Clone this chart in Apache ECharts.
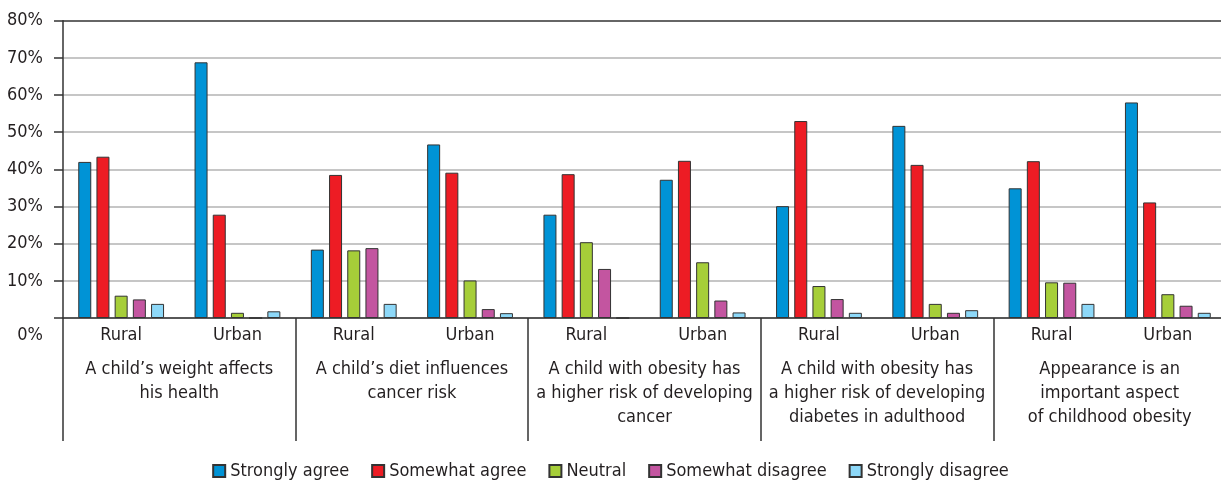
<!DOCTYPE html>
<html>
<head>
<meta charset="utf-8">
<script src="https://cdn.jsdelivr.net/npm/echarts@6/dist/echarts.min.js"></script>
<style>html,body{margin:0;padding:0;background:#fff}#c{width:1221px;height:488px}</style>
</head>
<body>
<div id="c"></div>
<script>
const subCategories = ['Rural','Urban','Rural','Urban','Rural','Urban','Rural','Urban','Rural','Urban'];
const groupLabels = [
  'A child\u2019s weight affects\nhis health',
  'A child\u2019s diet influences\ncancer risk',
  'A child with obesity has\na higher risk of developing\ncancer',
  'A child with obesity has\na higher risk of developing\ndiabetes in adulthood',
  'Appearance is an\nimportant aspect\nof childhood obesity'
];
const yTicks = [0,10,20,30,40,50,60,70,80];
const seriesNames = ['Strongly agree','Somewhat agree','Neutral','Somewhat disagree','Strongly disagree'];
const stronglyAgree    = [42.0, 68.8, 18.4, 46.7, 27.8, 37.2, 30.1, 51.7, 34.9, 58.0];
const somewhatAgree    = [43.4, 27.8, 38.5, 39.1, 38.7, 42.3, 53.0, 41.2, 42.2, 31.1];
const neutral          = [6.0, 1.4, 18.2, 10.1, 20.4, 15.0, 8.6, 3.8, 9.6, 6.4];
const somewhatDisagree = [5.0, 0, 18.8, 2.4, 13.2, 4.7, 5.1, 1.4, 9.5, 3.3];
const stronglyDisagree = [3.8, 1.8, 3.8, 1.3, 0, 1.5, 1.4, 2.1, 3.8, 1.4];
const seriesData = [stronglyAgree, somewhatAgree, neutral, somewhatDisagree, stronglyDisagree];
const colors = ['#0093d6','#ed1c24','#a6ce39','#c355a0','#8dd8f8'];

const FONT = '"Liberation Sans Narrow","DejaVu Sans Condensed",sans-serif';
const FS = 18;
const TXT = '#231f20';
const chart = echarts.init(document.getElementById('c'));
const gridColors = yTicks.map((v,i)=> i===yTicks.length-1 ? '#333333' : '#b3b3b3');
chart.setOption({
  animation: false,
  textStyle: {fontFamily: FONT, color: TXT},
  grid: {left: 63, top: 20.7, width: 1163, height: 297.3, containLabel: false, outerBoundsMode: 'none'},
  legend: {
    bottom: 3, left: 'center',
    itemWidth: 12, itemHeight: 12, itemGap: 22,
    icon: 'rect',
    textStyle: {fontFamily: FONT, fontSize: FS, color: TXT},
    data: seriesNames
  },
  xAxis: [
    {
      type: 'category', data: subCategories, position: 'bottom',
      axisLine: {show: true, lineStyle: {color: '#333', width: 1.5}},
      axisTick: {show: false},
      axisLabel: {fontFamily: FONT, fontSize: FS, color: TXT, margin: 8, interval: 0}
    },
    {
      type: 'category', data: groupLabels, position: 'bottom',
      axisLine: {show: false},
      axisTick: {show: true, length: 123, lineStyle: {color: '#333', width: 1.5}},
      axisLabel: {fontFamily: FONT, fontSize: FS, color: TXT, margin: 39, lineHeight: 24, interval: 0}
    }
  ],
  yAxis: {
    type: 'value', min: 0, max: 80, interval: 10,
    axisLine: {show: true, lineStyle: {color: '#333', width: 1.5}},
    axisTick: {show: true, length: 9, lineStyle: {color: '#333', width: 1.5}},
    axisLabel: {
      fontFamily: FONT, fontSize: FS, color: TXT, margin: 20,
      hideOverlap: false,
      formatter: v => v === 0 ? '{z|0%}' : v + '%',
      rich: {z: {fontFamily: FONT, fontSize: FS, color: TXT, padding: [34, 0, 0, 0]}}
    },
    splitLine: {show: true, lineStyle: {color: gridColors, width: 1.5}}
  },
  series: seriesNames.map((n,i)=>({
    name: n, type: 'bar', xAxisIndex: 0, data: seriesData[i],
    barWidth: 13, barGap: '40%',
    itemStyle: {color: colors[i], borderColor: '#333', borderWidth: 1}
  }))
});
</script>
</body>
</html>
